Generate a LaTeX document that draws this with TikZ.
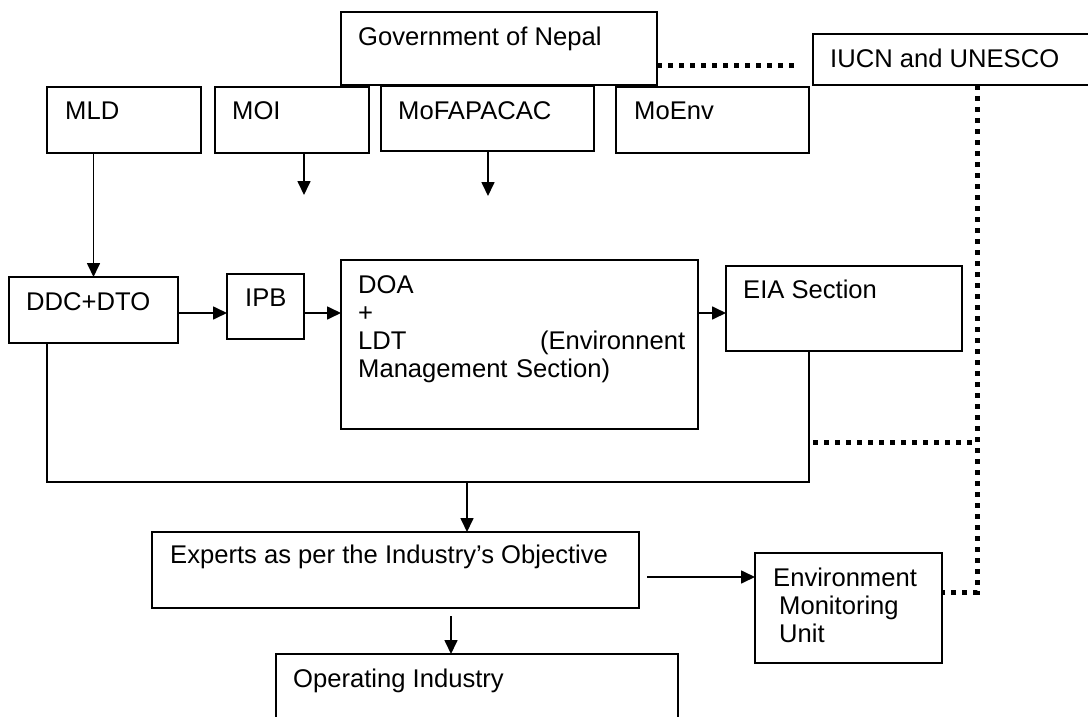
\documentclass[tikz,border=0pt]{standalone}
\usepackage{fontspec}
\setmainfont{Liberation Sans}
\usetikzlibrary{arrows.meta}

\begin{document}
\begin{tikzpicture}
[
  x=1pt, y=-1pt,
  box/.style={draw, line width=2pt, anchor=north west, inner sep=0pt, outer sep=0pt},
  txt/.style={anchor=base west, inner sep=0pt, align=left, font=\fontsize{25.6}{28}\selectfont},
  arr/.style={line width=1.7pt, -{Triangle[length=14pt,width=13pt]}},
  link/.style={line width=1.7pt},
  dots/.style={line width=5pt, dash pattern=on 5pt off 6pt}
]
\useasboundingbox (0,0) rectangle (1088,717);
\clip (0,0) rectangle (1088,717);

% ministries
\node[box, minimum width=316pt, minimum height=73pt] (gov) at (341,12) {};
\node[txt] (gov-t) at ([xshift=17pt,yshift=-34pt]gov.north west) {Government of Nepal};
\node[box, minimum width=290pt, minimum height=51pt] (iucn) at (813,34) {};
\node[txt] (iucn-t) at ([xshift=17pt,yshift=-33pt]iucn.north west) {IUCN and UNESCO};

\node[box, minimum width=154pt, minimum height=66pt] (mld) at (47,87) {};
\node[txt] (mld-t) at ([xshift=18pt,yshift=-32pt]mld.north west) {MLD};
\node[box, minimum width=154pt, minimum height=66pt] (moi) at (215,87) {};
\node[txt] (moi-t) at ([xshift=17pt,yshift=-32pt]moi.north west) {MOI};
\node[box, minimum width=213pt, minimum height=65pt] (mofa) at (381,86) {};
\node[txt] (mofa-t) at ([xshift=17pt,yshift=-33pt]mofa.north west) {MoFAPACAC};
\node[box, minimum width=193pt, minimum height=66pt] (moenv) at (616,87) {};
\node[txt] (moenv-t) at ([xshift=18pt,yshift=-32pt]moenv.north west) {MoEnv};

% departments
\node[box, minimum width=169pt, minimum height=66pt] (ddc) at (9,277) {};
\node[txt] (ddc-t) at ([xshift=17pt,yshift=-33pt]ddc.north west) {DDC+DTO};
\node[box, minimum width=77pt, minimum height=65pt] (ipb) at (227,274) {};
\node[txt] (ipb-t) at ([xshift=18pt,yshift=-32pt]ipb.north west) {IPB};
\node[box, minimum width=357pt, minimum height=169pt] (doa) at (341,260) {};
\node[txt, text width=327pt] (doa-t) at ([xshift=17pt,yshift=-33pt]doa.north west)
  {DOA\\+\\LDT\hfill(Environnent\\Management Section)};
\node[box, minimum width=236pt, minimum height=85pt] (eia) at (726,266) {};
\node[txt] (eia-t) at ([xshift=17pt,yshift=-32pt]eia.north west) {EIA Section};

% experts and industry
\node[box, minimum width=487pt, minimum height=76pt] (experts) at (152,532) {};
\node[txt] (experts-t) at ([xshift=18pt,yshift=-31pt]experts.north west) {Experts as per the Industry’s Objective};
\node[box, minimum width=187pt, minimum height=110pt] (emu) at (755,553) {};
\node[txt, text width=160pt] (emu-t) at ([xshift=18pt,yshift=-33pt]emu.north west)
  {Environment\\\hspace*{6pt}Monitoring\\\hspace*{6pt}Unit};
\node[box, minimum width=402pt, minimum height=90pt] (oper) at (276,654) {};
\node[txt] (oper-t) at ([xshift=17pt,yshift=-33pt]oper.north west) {Operating Industry};

% arrows
\coordinate (row) at (0,313);
\coordinate (moi-end) at (304,195);
\coordinate (mofa-end) at (488,196);
\coordinate (join-l) at (47,482);
\coordinate (join-m) at (467,482);
\coordinate (join-r) at (809,482);
\coordinate (exp-out) at (647,577);
\coordinate (exp-down) at (451,616);

\draw[arr] (mld.south -| ddc.north) -- (ddc.north);
\draw[arr] (moi.south -| moi-end) -- (moi-end);
\draw[arr] (mofa.south -| mofa-end) -- (mofa-end);
\draw[arr] (ddc.east |- row) -- (ipb.west |- row);
\draw[arr] (ipb.east |- row) -- (doa.west |- row);
\draw[arr] (doa.east |- row) -- (eia.west |- row);
\draw[link] (ddc.south -| join-l) -- (join-l) -- (join-r) -- (eia.south -| join-r);
\draw[arr] (join-m) -- (experts.north -| join-m);
\draw[arr] (exp-out) -- (exp-out -| emu.west);
\draw[arr] (exp-down) -- (exp-down |- oper.north);

% dotted links
\coordinate (gov-dot) at (794,66);
\coordinate (dot-v) at (977,592);
\coordinate (dot-h) at (813,442);
\draw[dots] (gov.east |- gov-dot) -- (gov-dot);
\draw[dots] (iucn.south -| dot-v) -- (dot-v) -- (dot-v -| emu.east);
\draw[dots] (dot-h) -- (dot-h -| dot-v);

\end{tikzpicture}
\end{document}
